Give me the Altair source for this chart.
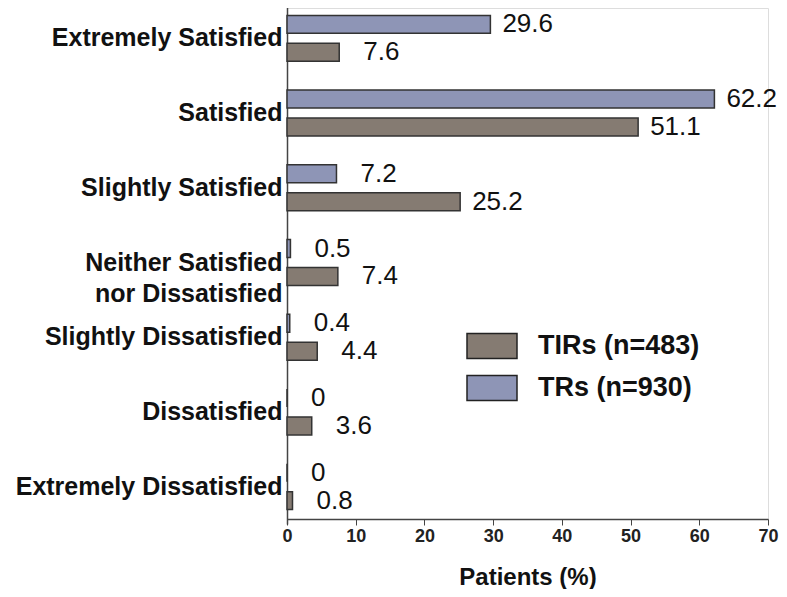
import altair as alt
import pandas as pd

categories = ["Extremely Satisfied", "Satisfied", "Slightly Satisfied",
              "Neither Satisfied|nor Dissatisfied", "Slightly Dissatisfied",
              "Dissatisfied", "Extremely Dissatisfied"]
tirs = [7.6, 51.1, 25.2, 7.4, 4.4, 3.6, 0.8]
trs = [29.6, 62.2, 7.2, 0.5, 0.4, 0, 0]
series_names = ["TIRs (n=483)", "TRs (n=930)"]
colors = ["#857b72", "#8e95b6"]
x_ticks = [0, 10, 20, 30, 40, 50, 60, 70]

rows = []
for c, a, b in zip(categories, tirs, trs):
    rows.append({"cat": c, "series": series_names[0], "value": a})
    rows.append({"cat": c, "series": series_names[1], "value": b})
df = pd.DataFrame(rows)

FONT = "Liberation Sans"

y_enc = alt.Y("cat:N", sort=categories, title=None,
              scale=alt.Scale(range=[-7, 516], paddingInner=0, paddingOuter=0),
              axis=alt.Axis(labelExpr="split(datum.label, '|')", labelFont=FONT,
                            labelFontSize=25, labelFontWeight="bold", labelColor="#111",
                            labelLineHeight=31, ticks=False, labelPadding=5,
                            domainColor="#444", domainWidth=1.5, labelLimit=400))
yoff = alt.YOffset("series:N", sort=[series_names[1], series_names[0]],
                   scale=alt.Scale(paddingInner=0.357, paddingOuter=0.514))
x_enc = alt.X("value:Q", title="Patients (%)",
              scale=alt.Scale(domain=[0, 70], nice=False),
              axis=alt.Axis(values=x_ticks, grid=False, tickSize=6, tickColor="#444",
                            domainColor="#444", domainWidth=1.5, labelFont=FONT,
                            labelFontSize=18, labelFontWeight="bold", labelColor="#222",
                            labelPadding=2, labelFlush=False, titleFont=FONT,
                            titleFontSize=24, titleFontWeight="bold", titleColor="#111",
                            titlePadding=20))

bars = alt.Chart(df).mark_bar(stroke="#333", strokeWidth=1.5).encode(
    x=x_enc, y=y_enc, yOffset=yoff,
    color=alt.Color("series:N", sort=series_names,
                    scale=alt.Scale(domain=series_names, range=colors),
                    legend=alt.Legend(title=None, orient="none", legendX=179, legendY=312,
                                      symbolType="M-1,-0.5H1V0.5H-1Z", symbolSize=2500,
                                      symbolStrokeColor="#222", symbolStrokeWidth=1.5,
                                      symbolOpacity=1, labelFont=FONT, labelFontSize=27,
                                      labelFontWeight="bold", labelColor="#111",
                                      labelOffset=20, rowPadding=-5, labelLimit=300)),
)

def labels(filt, dx):
    return alt.Chart(df).transform_filter(filt).mark_text(
        align="left", baseline="middle", dx=dx, font=FONT, fontSize=26, color="#111"
    ).encode(x="value:Q", y=alt.Y("cat:N", sort=categories), yOffset=yoff,
             text=alt.Text("value:Q", format="~g"))

small = labels("datum.value < 10", 24)
big = labels("datum.value >= 10", 12)

chart = alt.layer(bars, small, big).properties(
    width=481, height=511, autosize="none",
    padding={"left": 279, "top": 0, "right": 11, "bottom": 70},
).configure_view(stroke=None).configure(background="white")

chart.save("out.html", embed_options={"renderer": "svg", "actions": False})
